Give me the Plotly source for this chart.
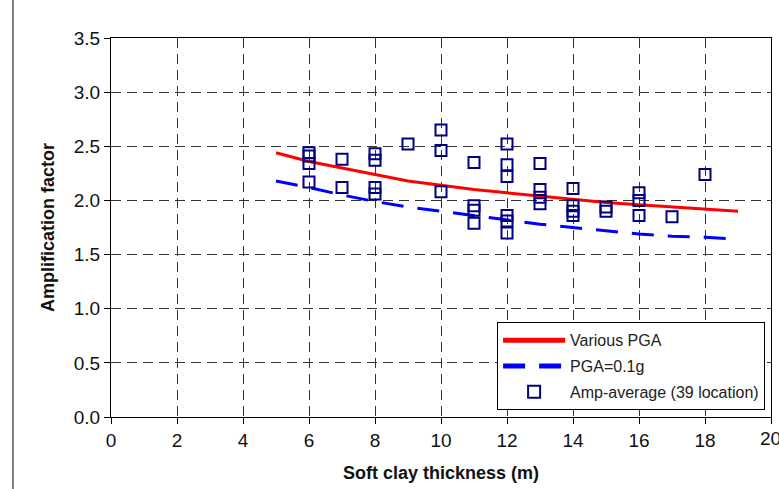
import plotly.graph_objects as go

# Curves
curve_x = [5, 6, 7, 8, 9, 10, 11, 12, 13, 14, 15, 16, 17, 18, 19]
various_pga = [2.44, 2.36, 2.30, 2.24, 2.18, 2.14, 2.10, 2.07, 2.04, 2.01, 1.98, 1.96, 1.94, 1.92, 1.90]
pga_01g = [2.18, 2.12, 2.05, 1.99, 1.94, 1.90, 1.86, 1.82, 1.78, 1.75, 1.72, 1.69, 1.67, 1.66, 1.64]

# Amp-average (39 locations)
amp_x = [6, 6, 6, 6,
         7, 7,
         8, 8, 8, 8,
         9,
         10, 10, 10,
         11, 11, 11, 11,
         12, 12, 12, 12, 12, 12,
         13, 13, 13, 13,
         14, 14, 14, 14,
         15, 15,
         16, 16, 16,
         17,
         18]
amp_y = [2.44, 2.41, 2.34, 2.17,
         2.38, 2.12,
         2.43, 2.37, 2.12, 2.06,
         2.52,
         2.65, 2.46, 2.08,
         2.35, 1.95, 1.91, 1.79,
         2.52, 2.33, 2.22, 1.86, 1.81, 1.70,
         2.34, 2.10, 2.03, 1.97,
         2.11, 1.95, 1.90, 1.86,
         1.94, 1.90,
         2.07, 2.00, 1.86,
         1.85,
         2.24]

x_ticks = list(range(0, 21, 2))
y_ticks = [0.0, 0.5, 1.0, 1.5, 2.0, 2.5, 3.0, 3.5]

fig = go.Figure()
fig.add_trace(go.Scatter(x=curve_x, y=various_pga, mode="lines", name="Various PGA",
                         legendgroup="a", line=dict(color="#ff0000", width=3)))
fig.add_trace(go.Scatter(x=curve_x, y=pga_01g, mode="lines", name="PGA=0.1g",
                         legendgroup="b", line=dict(color="#0000ff", width=3, dash="22px,14px")))
fig.add_trace(go.Scatter(x=amp_x, y=amp_y, mode="markers", name="Amp-average (39 location)",
                         legendgroup="c",
                         marker=dict(symbol="square-open", size=11, color="#000080",
                                     line=dict(color="#000080", width=2))))

font = "Liberation Sans, Arial, sans-serif"
tickfont = dict(family=font, size=19, color="#111")
fig.update_layout(
    width=779, height=489,
    margin=dict(l=111, r=8, t=38, b=72),
    paper_bgcolor="white", plot_bgcolor="white",
    font=dict(family=font, size=15, color="#111"),
    showlegend=True,
    legend=dict(x=0.585, y=0.25, xanchor="left", yanchor="top",
                bgcolor="white", bordercolor="#000", borderwidth=1,
                font=dict(family=font, size=16, color="#222"), itemwidth=62,
                itemsizing="constant",
                tracegroupgap=2, traceorder="grouped"),
    xaxis=dict(range=[0, 20], tickvals=x_ticks, ticks="outside", ticklen=6,
               tickfont=tickfont,
               tickcolor="#000", showline=True, linecolor="#000", linewidth=1,
               mirror=True, showgrid=True, gridcolor="#333", griddash="10px,6px",
               gridwidth=1, zeroline=False,
               title=dict(text="<b>Soft clay thickness (m)</b>",
                          font=dict(family=font, size=18), standoff=16)),
    yaxis=dict(range=[0, 3.5], tickvals=y_ticks, tickformat=".1f", ticks="outside",
               tickfont=tickfont,
               ticklen=6, tickcolor="#000", showline=True, linecolor="#000", linewidth=1,
               mirror=True, showgrid=True, gridcolor="#333", griddash="10px,6px",
               gridwidth=1, zeroline=False,
               title=dict(text="<b>Amplification factor</b>",
                          font=dict(family=font, size=18), standoff=14)),
    shapes=[dict(type="line", xref="paper", yref="paper",
                 x0=-0.1485, x1=-0.1485, y0=-0.2, y1=1.11,
                 line=dict(color="#000", width=1))],
    annotations=[dict(x=x_ticks[-1], y=0, xref="x", yref="paper", yanchor="top",
                      yshift=-9, xshift=-1, text=str(x_ticks[-1]), showarrow=False,
                      font=tickfont)],
)

fig.write_html("out.html")
